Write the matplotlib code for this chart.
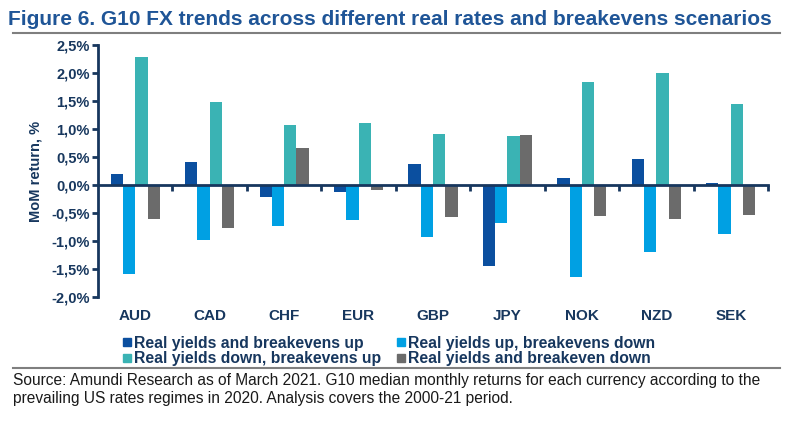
import matplotlib
matplotlib.use('Agg')
import matplotlib.pyplot as plt
from matplotlib.lines import Line2D
import numpy as np

plt.rcParams['font.family'] = ['Liberation Sans', 'DejaVu Sans']

currencies = ['AUD', 'CAD', 'CHF', 'EUR', 'GBP', 'JPY', 'NOK', 'NZD', 'SEK']
up_up = [0.20, 0.41, -0.21, -0.12, 0.37, -1.44, 0.13, 0.46, 0.03]
up_down = [-1.59, -0.98, -0.74, -0.62, -0.93, -0.67, -1.64, -1.20, -0.88]
down_up = [2.28, 1.48, 1.08, 1.10, 0.92, 0.88, 1.84, 2.01, 1.45]
down_down = [-0.61, -0.77, 0.66, -0.09, -0.58, 0.89, -0.56, -0.61, -0.54]

series = [up_up, up_down, down_up, down_down]
names = ['Real yields and breakevens up', 'Real yields up, breakevens down',
         'Real yields down, breakevens up', 'Real yields and breakeven down']
colors = ['#0b4f9f', '#00a0e3', '#3ab3b4', '#6b6b6b']
navy = '#17375e'

fig = plt.figure(figsize=(8, 4.26), dpi=100)
ax = fig.add_axes([0.1225, 0.303, 0.8375, 0.591])

x = np.arange(len(currencies))
w = 0.165
for i, (vals, c) in enumerate(zip(series, colors)):
    ax.bar(x + (i - 1.5) * w, vals, w, color=c, zorder=2)

ax.set_xlim(-0.5, len(currencies) - 0.5)
ax.set_ylim(-2.0, 2.5)
yt = np.arange(-2.0, 2.51, 0.5)
ax.set_yticks(yt)
ax.set_yticklabels([('%.1f%%' % v).replace('.', ',') for v in yt],
                   fontsize=10.5, fontweight='bold', color=navy)
ax.tick_params(axis='y', length=4, width=2, color=navy, pad=2)
ax.set_ylabel('MoM return, %', fontsize=10.5, fontweight='bold', color=navy, labelpad=6)

for s in ['top', 'right']:
    ax.spines[s].set_visible(False)
ax.spines['left'].set_color(navy)
ax.spines['left'].set_linewidth(2)
ax.spines['bottom'].set_position(('data', 0))
ax.spines['bottom'].set_color(navy)
ax.spines['bottom'].set_linewidth(2)
ax.spines['bottom'].set_zorder(3)
ax.set_xticks(np.arange(0.5, len(currencies), 1.0))
ax.set_xticklabels([])
ax.tick_params(axis='x', length=4, width=2, color=navy, direction='out')

sec = ax.secondary_xaxis('bottom')
sec.set_xticks(x)
sec.set_xticklabels(currencies, fontsize=11, fontweight='bold', color=navy)
sec.tick_params(length=0, pad=9)
sec.spines['bottom'].set_visible(False)

handles = [Line2D([], [], marker='s', color=c, linestyle='', markersize=5.5) for c in colors]
order = [0, 2, 1, 3]
fig.legend([handles[i] for i in order], [names[i] for i in order], ncol=2,
           loc='center', bbox_to_anchor=(0.486, 0.176), frameon=False,
           prop={'size': 11.3, 'weight': 'bold'}, labelcolor=navy,
           handlelength=0.6, handletextpad=0.15, columnspacing=1.0,
           labelspacing=0.05, borderpad=0)

fig.text(0.01, 0.955, 'Figure 6. G10 FX trends across different real rates and breakevens scenarios',
         fontsize=15, fontweight='bold', color='#1f5597', va='center')
fig.add_artist(Line2D([0.016, 0.975], [0.923, 0.923], color='#7f7f7f', linewidth=1.5))
fig.add_artist(Line2D([0.016, 0.975], [0.136, 0.136], color='#7f7f7f', linewidth=1.5))
fig.text(0.016, 0.106, 'Source: Amundi Research as of March 2021. G10 median monthly returns for each currency according to the',
         fontsize=11.2, color='#1a1a1a', va='center')
fig.text(0.016, 0.064, 'prevailing US rates regimes in 2020. Analysis covers the 2000-21 period.',
         fontsize=11.2, color='#1a1a1a', va='center')

fig.savefig('out.png', dpi=100)
